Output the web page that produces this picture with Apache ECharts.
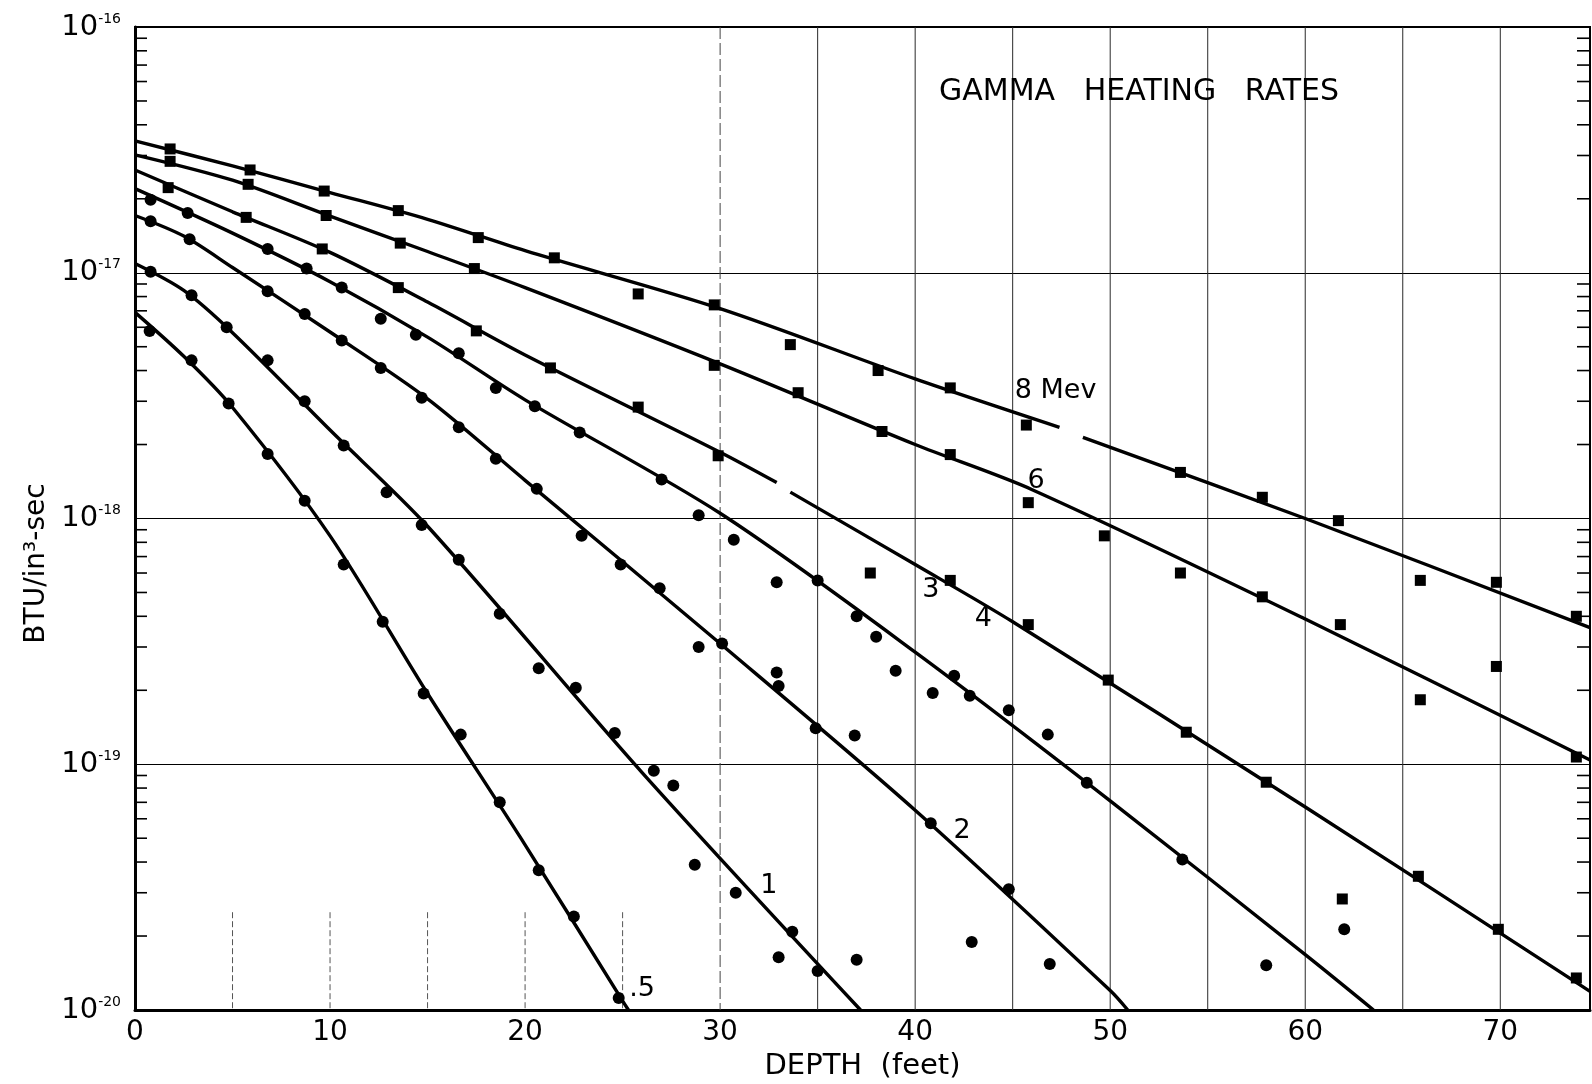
<!DOCTYPE html>
<html>
<head>
<meta charset="utf-8">
<script src="https://cdn.jsdelivr.net/npm/echarts@6/dist/echarts.min.js"></script>
<style>
html,body{margin:0;padding:0;background:#fff;}
#chart{width:1592px;height:1084px;}
</style>
</head>
<body>
<div id="chart"></div>
<script>
// ---------------- data ----------------
// measured points  [depth (feet), BTU/in^3-sec]
const pts8 = [[1.8,3.19e-17],[5.9,2.62e-17],[9.7,2.15e-17],[13.5,1.79e-17],[17.6,1.39e-17],[21.5,1.15e-17],[25.8,8.2e-18],[29.7,7.4e-18],[33.6,5.1e-18],[38.1,4.0e-18],[41.8,3.4e-18],[45.7,2.4e-18],[53.6,1.54e-18],[57.8,1.22e-18],[61.7,9.8e-19],[65.9,5.6e-19],[69.8,5.5e-19],[73.9,4.0e-19]];
const pts6 = [[1.8,2.84e-17],[5.8,2.29e-17],[9.8,1.71e-17],[13.6,1.32e-17],[17.4,1.04e-17],[29.7,4.2e-18],[34.0,3.25e-18],[38.3,2.26e-18],[41.8,1.82e-18],[45.8,1.16e-18],[49.7,8.5e-19],[53.6,6.0e-19],[57.8,4.8e-19],[61.8,3.7e-19],[65.9,1.83e-19],[69.8,2.5e-19],[73.9,1.07e-19]];
const pts4 = [[1.7,2.22e-17],[5.7,1.68e-17],[9.6,1.25e-17],[13.5,8.7e-18],[17.5,5.8e-18],[21.3,4.1e-18],[25.8,2.84e-18],[29.9,1.80e-18],[37.7,6.0e-19],[41.8,5.6e-19],[45.8,3.7e-19],[49.9,2.2e-19],[53.9,1.35e-19],[58.0,8.45e-20],[61.9,2.83e-20],[65.8,3.5e-20],[69.9,2.13e-20],[73.9,1.35e-20]];
const pts3 = [[0.8,1.98e-17],[2.7,1.75e-17],[6.8,1.25e-17],[8.8,1.04e-17],[10.6,8.7e-18],[12.6,6.5e-18],[14.4,5.6e-18],[16.6,4.7e-18],[18.5,3.4e-18],[20.5,2.86e-18],[22.8,2.24e-18],[27.0,1.44e-18],[28.9,1.03e-18],[30.7,8.2e-19],[32.9,5.5e-19],[35.0,5.6e-19],[37.0,4.0e-19],[38.0,3.3e-19],[39.0,2.4e-19],[40.9,1.95e-19],[42.0,2.29e-19],[42.8,1.90e-19],[44.8,1.66e-19],[46.8,1.32e-19],[48.8,8.4e-20],[53.7,4.1e-20],[58.0,1.52e-20],[62.0,2.13e-20]];
const pts2 = [[0.8,1.62e-17],[2.8,1.37e-17],[6.8,8.4e-18],[8.7,6.8e-18],[10.6,5.3e-18],[12.6,4.1e-18],[14.7,3.1e-18],[16.6,2.35e-18],[18.5,1.75e-18],[20.6,1.32e-18],[22.9,8.5e-19],[24.9,6.5e-19],[26.9,5.2e-19],[28.9,3.0e-19],[30.1,3.1e-19],[32.9,2.36e-19],[33.0,2.08e-19],[34.9,1.40e-19],[36.9,1.31e-19],[40.8,5.75e-20],[42.9,1.89e-20],[44.8,3.1e-20],[46.9,1.54e-20]];
const pts1 = [[0.8,1.01e-17],[2.9,8.1e-18],[4.7,6.0e-18],[6.8,4.4e-18],[8.7,3.0e-18],[10.7,1.98e-18],[12.9,1.28e-18],[14.7,9.4e-19],[16.6,6.8e-19],[18.7,4.1e-19],[20.7,2.46e-19],[22.6,2.05e-19],[24.6,1.34e-19],[26.6,9.4e-20],[27.6,8.2e-20],[28.7,3.9e-20],[30.8,3.0e-20],[33.0,1.64e-20],[33.7,2.08e-20],[35.0,1.44e-20],[37.0,1.60e-20]];
const pts05 = [[0.75,5.8e-18],[2.9,4.4e-18],[4.8,2.94e-18],[6.8,1.83e-18],[8.7,1.18e-18],[10.7,6.5e-19],[12.7,3.8e-19],[14.8,1.94e-19],[16.7,1.32e-19],[18.7,7.0e-20],[20.7,3.7e-20],[22.5,2.4e-20],[24.8,1.12e-20]];

// drawn curves ('-' = break in the drawn line)
const fit8 = [[0,3.44e-17],[5,2.72e-17],[10,2.12e-17],[15,1.65e-17],[20,1.23e-17],[30,7.15e-18],[40,3.7e-18],[47.4,2.35e-18],[48.0,'-'],[48.6,2.14e-18],[60,1.0e-18],[74.6,3.6e-19]];
const fit6 = [[0,3.02e-17],[5,2.38e-17],[10,1.70e-17],[15,1.22e-17],[20,8.7e-18],[30,4.26e-18],[40,2.0e-18],[46,1.31e-18],[60,3.9e-19],[74.6,1.04e-19]];
const fit4 = [[0,2.62e-17],[5,1.77e-17],[10,1.21e-17],[15,7.6e-18],[20,4.63e-18],[30,1.86e-18],[32.9,1.40e-18],[33.2,'-'],[33.6,1.28e-18],[40,6.5e-19],[45,3.8e-19],[60,6.7e-20],[74.6,1.19e-20]];
const fit3 = [[0,2.2e-17],[5,1.45e-17],[10,9.2e-18],[15,5.47e-18],[20,3.04e-18],[30,1.05e-18],[40,2.86e-19],[50,7.1e-20],[60,1.68e-20],[63.5,1e-20]];
const fit2 = [[0,1.71e-17],[2.5,1.41e-17],[5,1.05e-17],[10,5.74e-18],[15,3.07e-18],[20,1.43e-18],[30,3.1e-19],[40,6.5e-20],[50,1.2e-20],[50.9,1e-20]];
const fit1 = [[0,1.09e-17],[2.5,8.47e-18],[5,5.7e-18],[10,2.29e-18],[15,9.3e-19],[26,9.25e-20],[37.2,1e-20]];
const fit05 = [[0,6.9e-18],[2.5,4.57e-18],[5,2.83e-18],[10,8.5e-19],[15,1.94e-19],[20,4.7e-20],[25,1.09e-20],[25.3,1e-20]];

const curveNames = ['8 Mev','6','4','3','2','1','.5'];
const curveLabelX = [47.2, 46.2, 43.5, 40.8, 42.4, 32.5, 26.0];
const curveLabelY = [3.3e-18, 1.42e-18, 3.9e-19, 5.1e-19, 5.35e-20, 3.2e-20, 1.22e-20];

const xTickLabels = [0,10,20,30,40,50,60,70];
const xGridLines = [5,10,15,20,25,30,35,40,45,50,55,60,65,70];
const decades = [-20,-19,-18,-17];
const minorMantissas = [2,3,4,5,6,7,8,9];

// ---------------- chart ----------------
const FONT = 'DejaVu Sans';
const fits = [fit8, fit6, fit4, fit3, fit2, fit1, fit05];
const pts = [pts8, pts6, pts4, pts3, pts2, pts1, pts05];
const symbols = ['rect','rect','rect','circle','circle','circle','circle'];

const minorTickData = [];
decades.forEach(d => minorMantissas.forEach(m => minorTickData.push([0, m * Math.pow(10, d)])));

const series = [];

series.push({
  type: 'custom', name: 'vgrid', z: 1, silent: true,
  data: xGridLines.map(x => [x, 1e-18]),
  renderItem(params, api) {
    const x = api.value(0);
    const cs = params.coordSys;
    const px = api.coord([x, 1e-18])[0];
    let y1 = cs.y, y2 = cs.y + cs.height, dash = null, col = '#2a2a2a';
    if (x < 30) { y1 = api.coord([x, 2.5e-20])[1]; dash = [6, 3]; col = '#555'; }
    else if (x === 30) { dash = [12, 4]; col = '#444'; }
    return { type: 'line', shape: { x1: px, y1: y1, x2: px, y2: y2 },
             style: { stroke: col, lineWidth: 1, lineDash: dash } };
  }
});

series.push({
  type: 'custom', name: 'minorTicks', z: 2, silent: true,
  data: minorTickData,
  renderItem(params, api) {
    const cs = params.coordSys;
    const py = api.coord([0, api.value(1)])[1];
    return { type: 'group', children: [
      { type: 'line', shape: { x1: cs.x, y1: py, x2: cs.x + 12, y2: py }, style: { stroke: '#000', lineWidth: 1.6 } },
      { type: 'line', shape: { x1: cs.x + cs.width - 13, y1: py, x2: cs.x + cs.width, y2: py }, style: { stroke: '#000', lineWidth: 1.6 } }
    ]};
  }
});

fits.forEach((f, i) => {
  series.push({
    type: 'line', name: curveNames[i] + ' fit', data: f, z: 3,
    showSymbol: false, symbol: 'none', smooth: 0.3,
    connectNulls: false, clip: true,
    lineStyle: { color: '#000', width: 3.4, opacity: 1 }
  });
});

pts.forEach((p, i) => {
  series.push({
    type: 'scatter', name: curveNames[i], data: p, z: 4,
    symbol: symbols[i], symbolSize: symbols[i] === 'rect' ? 11 : 12,
    itemStyle: { color: '#000', opacity: 1 }
  });
});

series.push({
  type: 'scatter', name: 'labels', z: 5, symbolSize: 0,
  itemStyle: { color: '#000', opacity: 1 },
  data: curveNames.map((n, i) => ({ name: n, value: [curveLabelX[i], curveLabelY[i]] })),
  label: { show: true, position: 'inside', formatter: p => p.name,
           color: '#000', opacity: 1, fontFamily: FONT, fontSize: 27 }
});

const option = {
  animation: false,
  backgroundColor: '#fff',
  title: {
    text: 'GAMMA   HEATING   RATES', left: 934, top: 72,
    textStyle: { fontFamily: FONT, fontSize: 30, fontWeight: 'normal', color: '#000' }
  },
  grid: { left: 135, right: 2, top: 27, bottom: 74, containLabel: false, outerBoundsMode: 'none',
          show: true, borderColor: '#000', borderWidth: 2, backgroundColor: 'transparent' },
  xAxis: {
    type: 'value', min: 0, max: 74.6, interval: 5,
    name: 'DEPTH  (feet)', nameLocation: 'middle', nameGap: 40,
    nameTextStyle: { fontFamily: FONT, fontSize: 29, color: '#000' },
    axisLine: { show: true, onZero: false, lineStyle: { color: '#000', width: 3 } },
    axisTick: { show: false },
    splitLine: { show: false },
    axisLabel: { color: '#000', fontFamily: FONT, fontSize: 28, margin: 9, showMaxLabel: false,
                 formatter: v => (xTickLabels.indexOf(v) >= 0 ? String(v) : '') }
  },
  yAxis: {
    type: 'log', logBase: 10, min: 1e-20, max: 1e-16, splitNumber: 4,
    name: 'BTU/in³-sec', nameLocation: 'middle', nameGap: 84, nameRotate: 90,
    nameTextStyle: { fontFamily: FONT, fontSize: 28, color: '#000', padding: [0, 90, 0, 0] },
    axisLine: { show: true, lineStyle: { color: '#000', width: 3 } },
    axisTick: { show: false },
    splitLine: { show: true, lineStyle: { color: '#000', width: 1.2 } },
    axisLabel: {
      margin: 14, color: '#000',
      formatter: v => '{b|10}{s|' + Math.round(Math.log10(v)) + '}',
      rich: {
        b: { fontFamily: FONT, fontSize: 29, lineHeight: 30, color: '#000' },
        s: { fontFamily: FONT, fontSize: 14, lineHeight: 14, verticalAlign: 'top', color: '#000' }
      }
    }
  },
  series: series
};

const chart = echarts.init(document.getElementById('chart'), null, { renderer: 'canvas' });
chart.setOption(option);
</script>
</body>
</html>
